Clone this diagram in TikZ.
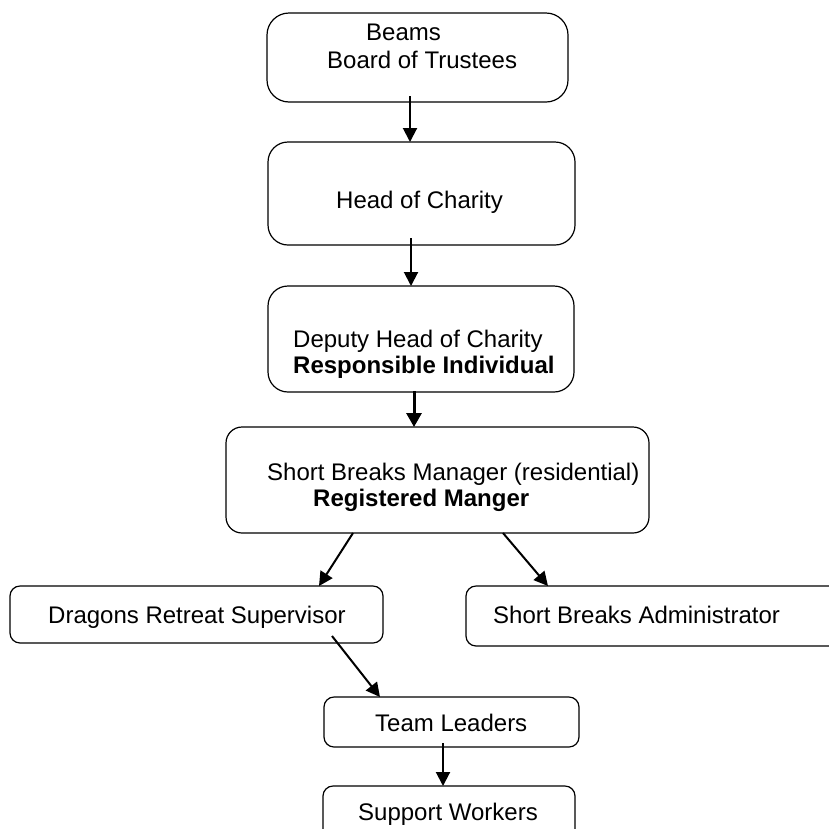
\documentclass[tikz,border=0pt]{standalone}
\usepackage{fontspec}
\setmainfont{Liberation Sans}
\usetikzlibrary{arrows.meta}
\begin{document}
\begin{tikzpicture}[x=1pt,y=-1pt,
  box/.style={draw=black, line width=1.2pt, anchor=north west, inner sep=0pt, outer sep=0pt},
  txt/.style={anchor=base west, inner sep=0pt, font=\fontsize{24}{28}\selectfont},
  btxt/.style={txt, font=\fontsize{24}{28}\selectfont\bfseries},
  arr/.style={line width=2pt, -{Triangle[length=14pt,width=14pt]}},
  arrb/.style={line width=3pt, -{Triangle[length=14pt,width=15pt]}}]
\useasboundingbox (0,0) rectangle (829,828);
% boxes
\node[box, rounded corners=22pt, minimum width=301pt, minimum height=89pt] (b1) at (267,13) {};
\node[box, rounded corners=20pt, minimum width=307pt, minimum height=103pt] (b2) at (268,142) {};
\node[box, rounded corners=20pt, minimum width=306pt, minimum height=106pt] (b3) at (268,286) {};
\node[box, rounded corners=16pt, minimum width=423pt, minimum height=106pt] (b4) at (226,427) {};
\node[box, rounded corners=10pt, minimum width=373pt, minimum height=57pt] (b5) at (10,586) {};
\node[box, rounded corners=10pt, minimum width=380pt, minimum height=60pt] (b6) at (466,586) {};
\node[box, rounded corners=10pt, minimum width=255pt, minimum height=50pt] (b7) at (324,697) {};
\node[box, rounded corners=10pt, minimum width=252pt, minimum height=70pt] (b8) at (323,786) {};
% texts
\node[txt] (t1a) at (366,40) {Beams};
\node[txt] (t1b) at (327,68) {Board of Trustees};
\node[txt] (t2) at (336,208) {Head of Charity};
\node[txt] (t3a) at (293,347) {Deputy Head of Charity};
\node[btxt] (t3b) at (293,373) {Responsible Individual};
\node[txt] (t4a) at (267,480) {Short Breaks Manager (residential)};
\node[btxt] (t4b) at (313,506) {Registered Manger};
\node[txt] (t5) at (48,623) {Dragons Retreat Supervisor};
\node[txt] (t6) at (493,623) {Short Breaks Administrator};
\node[txt] (t7) at (375,731) {Team Leaders};
\node[txt] (t8) at (358,820) {Support Workers};
% connectors
\draw[arr] ([xshift=143pt,yshift=6pt]b1.south west) -- ([xshift=142pt]b2.north west);
\draw[arr] ([xshift=143pt,yshift=7pt]b2.south west) -- ([xshift=143pt]b3.north west);
\draw[arrb] ([xshift=146pt,yshift=1pt]b3.south west) -- ([xshift=188pt]b4.north west);
\draw[arr] ([xshift=127pt]b4.south west) -- ([xshift=309pt]b5.north west);
\draw[arr] ([xshift=277pt]b4.south west) -- ([xshift=82pt]b6.north west);
\draw[arr] ([xshift=322pt,yshift=7pt]b5.south west) -- ([xshift=56pt]b7.north west);
\draw[arr] ([xshift=119pt,yshift=4pt]b7.south west) -- ([xshift=120pt]b8.north west);
\end{tikzpicture}
\end{document}
